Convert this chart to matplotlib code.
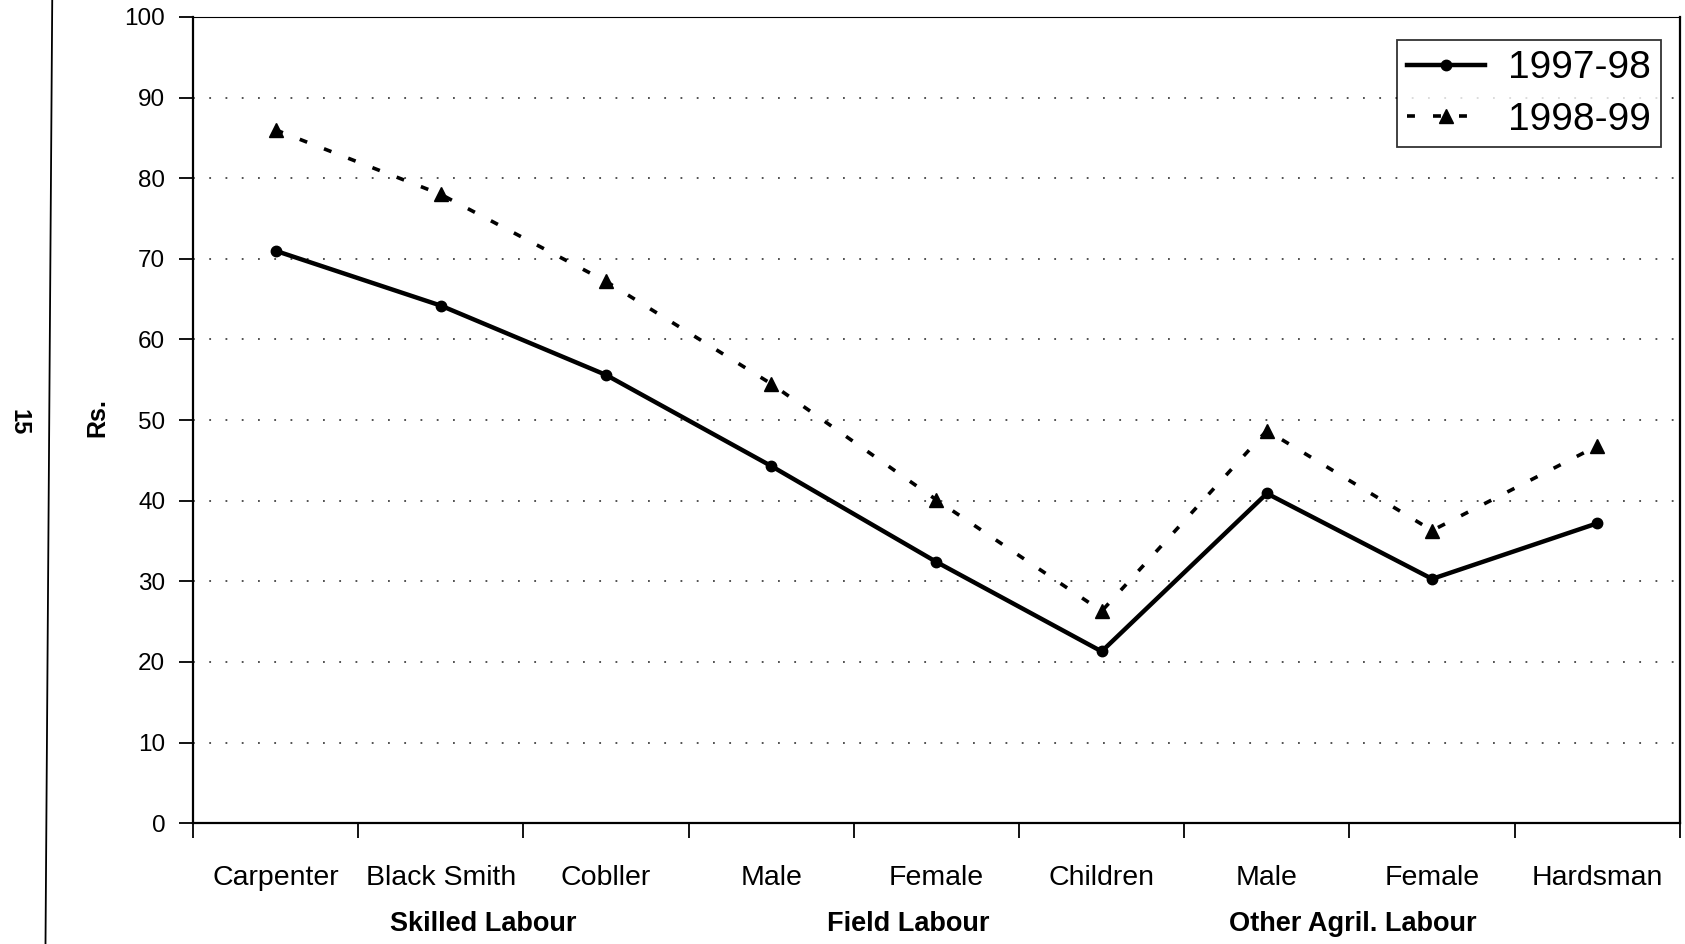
import matplotlib
matplotlib.use("Agg")
from matplotlib import pyplot as plt
from matplotlib.lines import Line2D
import matplotlib.transforms as mtransforms

# data
categories = ["Carpenter", "Black Smith", "Cobller", "Male", "Female",
              "Children", "Male", "Female", "Hardsman"]
groups = ["Skilled Labour", "Field Labour", "Other Agril. Labour"]
group_pos = [1.26, 3.83, 6.52]
wages_9798 = [71, 64.2, 55.6, 44.3, 32.4, 21.3, 40.9, 30.3, 37.2]
wages_9899 = [86, 78, 67.2, 54.5, 40.1, 26.3, 48.7, 36.3, 46.8]
yticks = list(range(0, 101, 10))

plain = ["Liberation Sans", "DejaVu Sans"]

fig = plt.figure(figsize=(16.85, 9.44), dpi=100)
ax = fig.add_axes([0.1145, 0.128, 0.8825, 0.854])

x = list(range(len(categories)))
ax.plot(x, wages_9798, color="black", lw=3.2, marker="o", ms=7.5,
        label="1997-98")
ax.plot(x, wages_9899, color="black", lw=2.6, linestyle=(0, (2.2, 5)),
        marker="^", ms=10, label="1998-99")

ax.set_xlim(-0.5, 8.5)
ax.set_ylim(0, 100)
ax.set_yticks(yticks)
ax.set_yticklabels([str(v) for v in yticks], fontfamily=plain, fontsize=17.5)

# category separators as major ticks, names as minor labels
ax.set_xticks([i - 0.5 for i in range(len(categories) + 1)])
ax.set_xticklabels([])
ax.set_xticks(x, minor=True)
ax.set_xticklabels(categories, minor=True, fontfamily=plain, fontsize=20.5)
ax.tick_params(axis="x", which="major", direction="out", length=11, width=1.3)
ax.tick_params(axis="x", which="minor", length=0, pad=30)
ax.tick_params(axis="y", direction="out", length=10, width=1.3, pad=10)

ax.yaxis.grid(True, linestyle=(0, (1, 8)), color="#444444", lw=1.3)
ax.set_axisbelow(True)

for side in ["left", "bottom", "right"]:
    ax.spines[side].set_linewidth(1.6)
ax.spines["top"].set_linewidth(0.8)

trans = mtransforms.blended_transform_factory(ax.transData, fig.transFigure)
for g, p in zip(groups, group_pos):
    ax.text(p, 0.021, g, transform=trans, ha="center", va="center",
            fontfamily=plain, fontsize=19.5, fontweight="bold")

fig.text(0.058, 0.558, "Rs.", rotation=90, ha="center", va="center",
         fontfamily=plain, fontsize=18, fontweight="bold")
fig.text(0.011, 0.553, "15", rotation=270, ha="center", va="center",
         fontfamily=plain, fontsize=17, fontweight="bold")

# page border on the left of the scan
fig.add_artist(Line2D([0.031, 0.027], [1.0, 0.0], transform=fig.transFigure,
                      color="black", lw=1.3))

leg = ax.legend(loc="upper right", bbox_to_anchor=(1.0, 0.995),
                prop={"family": plain, "size": 28}, frameon=True,
                fancybox=False, edgecolor="black", handlelength=2.0,
                borderpad=0.25, labelspacing=0.4, handletextpad=0.6)
leg.get_frame().set_linewidth(1.3)

fig.savefig("out.png", dpi=100, facecolor="white")
